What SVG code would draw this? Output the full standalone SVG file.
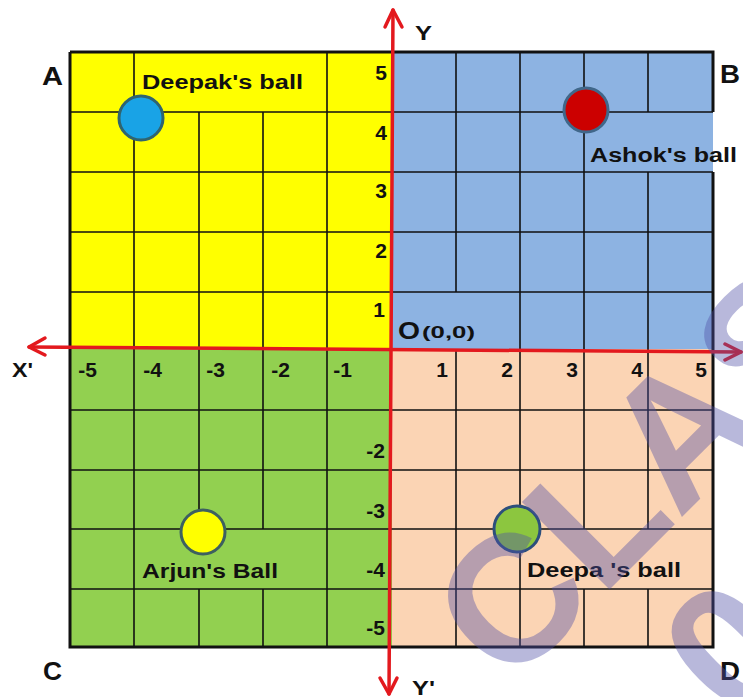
<svg xmlns="http://www.w3.org/2000/svg" width="743" height="697" viewBox="0 0 743 697">
<style>
.g{stroke:#111;stroke-width:1.6;fill:none}
.b{stroke:#111;stroke-width:3;fill:none}
.ax{stroke:#e3191e;stroke-width:3.5;fill:none;stroke-linecap:round;stroke-linejoin:round}
text{font-family:"Liberation Sans",Arial,sans-serif;font-weight:bold;fill:#111}
.n{font-size:21px}
.lb{font-size:20px}
.c{font-size:26px}
.wm{font-size:180px;fill:rgb(80,80,167);opacity:0.4}
</style>
<rect width="743" height="697" fill="#fff"/>
<g id="quadrants">
<rect x="70" y="52" width="322" height="297" fill="#ffff00"/>
<rect x="392" y="52" width="321" height="297" fill="#8db3e2"/>
<rect x="70" y="349" width="322" height="298" fill="#92d050"/>
<rect x="392" y="349" width="321" height="298" fill="#fbd4b4"/>
</g>
<g id="grid">
<path class="g" d="M70 112H713M70 172H713M70 232H713M70 292H713M70 410H713M70 470H713M70 529H713M70 589H713"/>
<path class="g" d="M134 52V647M327 52V647M199 112V529M199 589V647M263 112V529M263 589V647"/>
<path class="g" d="M456 52V292M456 349V647M520 52V647M584 52V529M584 589V647M648 52V112M648 172V529M648 589V647"/>
<path class="b" d="M70 52H713V112M713 172V647H70V52"/>
</g>
<g id="axes">
<path class="ax" d="M29 347L741 352"/>
<path class="ax" d="M45 338L29 347L45 355"/>
<path class="ax" d="M725 344L741 352L725 360"/>
<path class="ax" d="M393 10L389 694"/>
<path class="ax" d="M385 27L393 10L402 27"/>
<path class="ax" d="M380 678L389 694L397 678"/>
</g>
<g id="deepak">
<circle cx="141" cy="118" r="22" fill="#19a3e6" stroke="#2f6470" stroke-width="3"/>
<text class="lb" x="142" y="89" textLength="161" lengthAdjust="spacingAndGlyphs">Deepak's ball</text>
</g>
<g id="ashok">
<circle cx="586" cy="110" r="22" fill="#cc0000" stroke="#40678a" stroke-width="3"/>
<text class="lb" x="590" y="162" textLength="147" lengthAdjust="spacingAndGlyphs">Ashok's ball</text>
</g>
<g id="arjun">
<circle cx="203" cy="532" r="22" fill="#ffff00" stroke="#3d6060" stroke-width="3"/>
<text class="lb" x="142" y="578" textLength="136" lengthAdjust="spacingAndGlyphs">Arjun's Ball</text>
</g>
<g id="deepa">
<circle cx="517" cy="529" r="23" fill="#8cc63f" stroke="#2c4f7c" stroke-width="3"/>
<text class="lb" x="527" y="577" textLength="154" lengthAdjust="spacingAndGlyphs">Deepa 's ball</text>
</g>
<g id="labels">
<text class="c" x="42" y="85" textLength="21" lengthAdjust="spacingAndGlyphs">A</text>
<text class="c" x="720" y="83" textLength="20" lengthAdjust="spacingAndGlyphs">B</text>
<text class="c" x="43" y="680" textLength="19" lengthAdjust="spacingAndGlyphs">C</text>
<text class="c" x="720" y="680" textLength="20" lengthAdjust="spacingAndGlyphs">D</text>
<text class="n" x="415" y="40" textLength="17" lengthAdjust="spacingAndGlyphs">Y</text>
<text class="n" x="412" y="695" textLength="23" lengthAdjust="spacingAndGlyphs">Y'</text>
<text class="n" x="12" y="377" textLength="21" lengthAdjust="spacingAndGlyphs">X'</text>
<text x="398" y="339" font-size="23" textLength="22" lengthAdjust="spacingAndGlyphs">O</text>
<text x="422" y="338" font-size="17" textLength="53" lengthAdjust="spacingAndGlyphs">(0,0)</text>
</g>
<g id="ticks" class="n" text-anchor="end">
<text x="387" y="80">5</text>
<text x="387" y="140">4</text>
<text x="387" y="198">3</text>
<text x="387" y="258">2</text>
<text x="385" y="317">1</text>
<text x="385" y="458">-2</text>
<text x="385" y="518">-3</text>
<text x="385" y="577">-4</text>
<text x="385" y="635">-5</text>
<text x="97" y="377">-5</text>
<text x="162" y="377">-4</text>
<text x="225" y="377">-3</text>
<text x="290" y="377">-2</text>
<text x="352" y="377">-1</text>
<text x="448" y="377">1</text>
<text x="513" y="377">2</text>
<text x="578" y="377">3</text>
<text x="643" y="377">4</text>
<text x="707" y="377">5</text>
</g>
<g id="watermark">
<text class="wm" transform="translate(509,690) rotate(-45)">CLASS</text>
<text class="wm" transform="translate(738,728) rotate(-45)">0</text>
</g>
</svg>
